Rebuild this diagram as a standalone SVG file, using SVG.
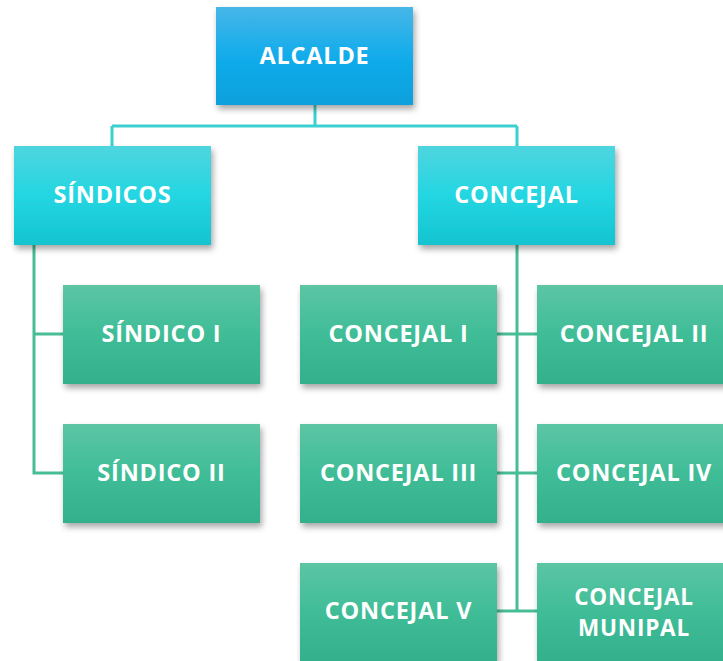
<svg xmlns="http://www.w3.org/2000/svg" width="723" height="661" viewBox="0 0 723 661">
<defs>
<linearGradient id="gBlue" x1="0" y1="0" x2="0" y2="1"><stop offset="0" stop-color="#47b6e8"/><stop offset="0.5" stop-color="#12aceb"/><stop offset="1" stop-color="#0aa0dc"/></linearGradient>
<linearGradient id="gCyan" x1="0" y1="0" x2="0" y2="1"><stop offset="0" stop-color="#4fd5df"/><stop offset="0.5" stop-color="#23d6e2"/><stop offset="1" stop-color="#14c4d0"/></linearGradient>
<linearGradient id="gGreen" x1="0" y1="0" x2="0" y2="1"><stop offset="0" stop-color="#5cc5a4"/><stop offset="0.5" stop-color="#3fbd97"/><stop offset="1" stop-color="#33b08c"/></linearGradient>
<filter id="sh" x="-10%" y="-10%" width="125%" height="130%"><feDropShadow dx="2" dy="4" stdDeviation="3" flood-color="#000" flood-opacity="0.35"/></filter>
</defs>
<style>
text{font-family:"Open Sans","Lato",sans-serif;font-weight:700;font-size:23.5px;letter-spacing:0.8px;fill:#fff;text-anchor:middle;dominant-baseline:central}
.c1{stroke:#3ccfcf;stroke-width:3;fill:none}
.c2{stroke:#47bd96;stroke-width:3;fill:none}
.blue{fill:url(#gBlue);filter:url(#sh)}
.cyan{fill:url(#gCyan);filter:url(#sh)}
.green{fill:url(#gGreen);filter:url(#sh)}
</style>
<g id="connectors">
<path class="c1" d="M315,105 V126 M112,126 H517 M112,126 V146 M517,126 V146"/>
<path class="c2" d="M34,245 V473 H63 M34,334 H63"/>
<path class="c2" d="M517,245 V611 M497,334 H537 M497,473 H537 M497,611 H537"/>
</g>
<g id="alcalde"><rect class="blue" x="216" y="7" width="197" height="98"/><text x="314.5" y="55">ALCALDE</text></g>
<g id="sindicos"><rect class="cyan" x="14" y="146" width="197" height="99"/><text x="112.5" y="194">SÍNDICOS</text></g>
<g id="concejal"><rect class="cyan" x="418" y="146" width="197" height="99"/><text x="516.5" y="194">CONCEJAL</text></g>
<g id="sindico1"><rect class="green" x="63" y="285" width="197" height="99"/><text x="161.5" y="333">SÍNDICO I</text></g>
<g id="sindico2"><rect class="green" x="63" y="424" width="197" height="99"/><text x="161.5" y="472">SÍNDICO II</text></g>
<g id="concejal1"><rect class="green" x="300" y="285" width="197" height="99"/><text x="398.5" y="333">CONCEJAL I</text></g>
<g id="concejal2"><rect class="green" x="537" y="285" width="197" height="99"/><text x="634" y="333">CONCEJAL II</text></g>
<g id="concejal3"><rect class="green" x="300" y="424" width="197" height="99"/><text x="398.5" y="472">CONCEJAL III</text></g>
<g id="concejal4"><rect class="green" x="537" y="424" width="197" height="99"/><text x="634" y="472">CONCEJAL IV</text></g>
<g id="concejal5"><rect class="green" x="300" y="563" width="197" height="99"/><text x="398.5" y="610">CONCEJAL V</text></g>
<g id="concejalmunipal"><rect class="green" x="537" y="563" width="197" height="99"/><text x="634" y="596" style="font-size:22.5px">CONCEJAL</text><text x="634" y="627" style="font-size:22.5px">MUNIPAL</text></g>
</svg>
